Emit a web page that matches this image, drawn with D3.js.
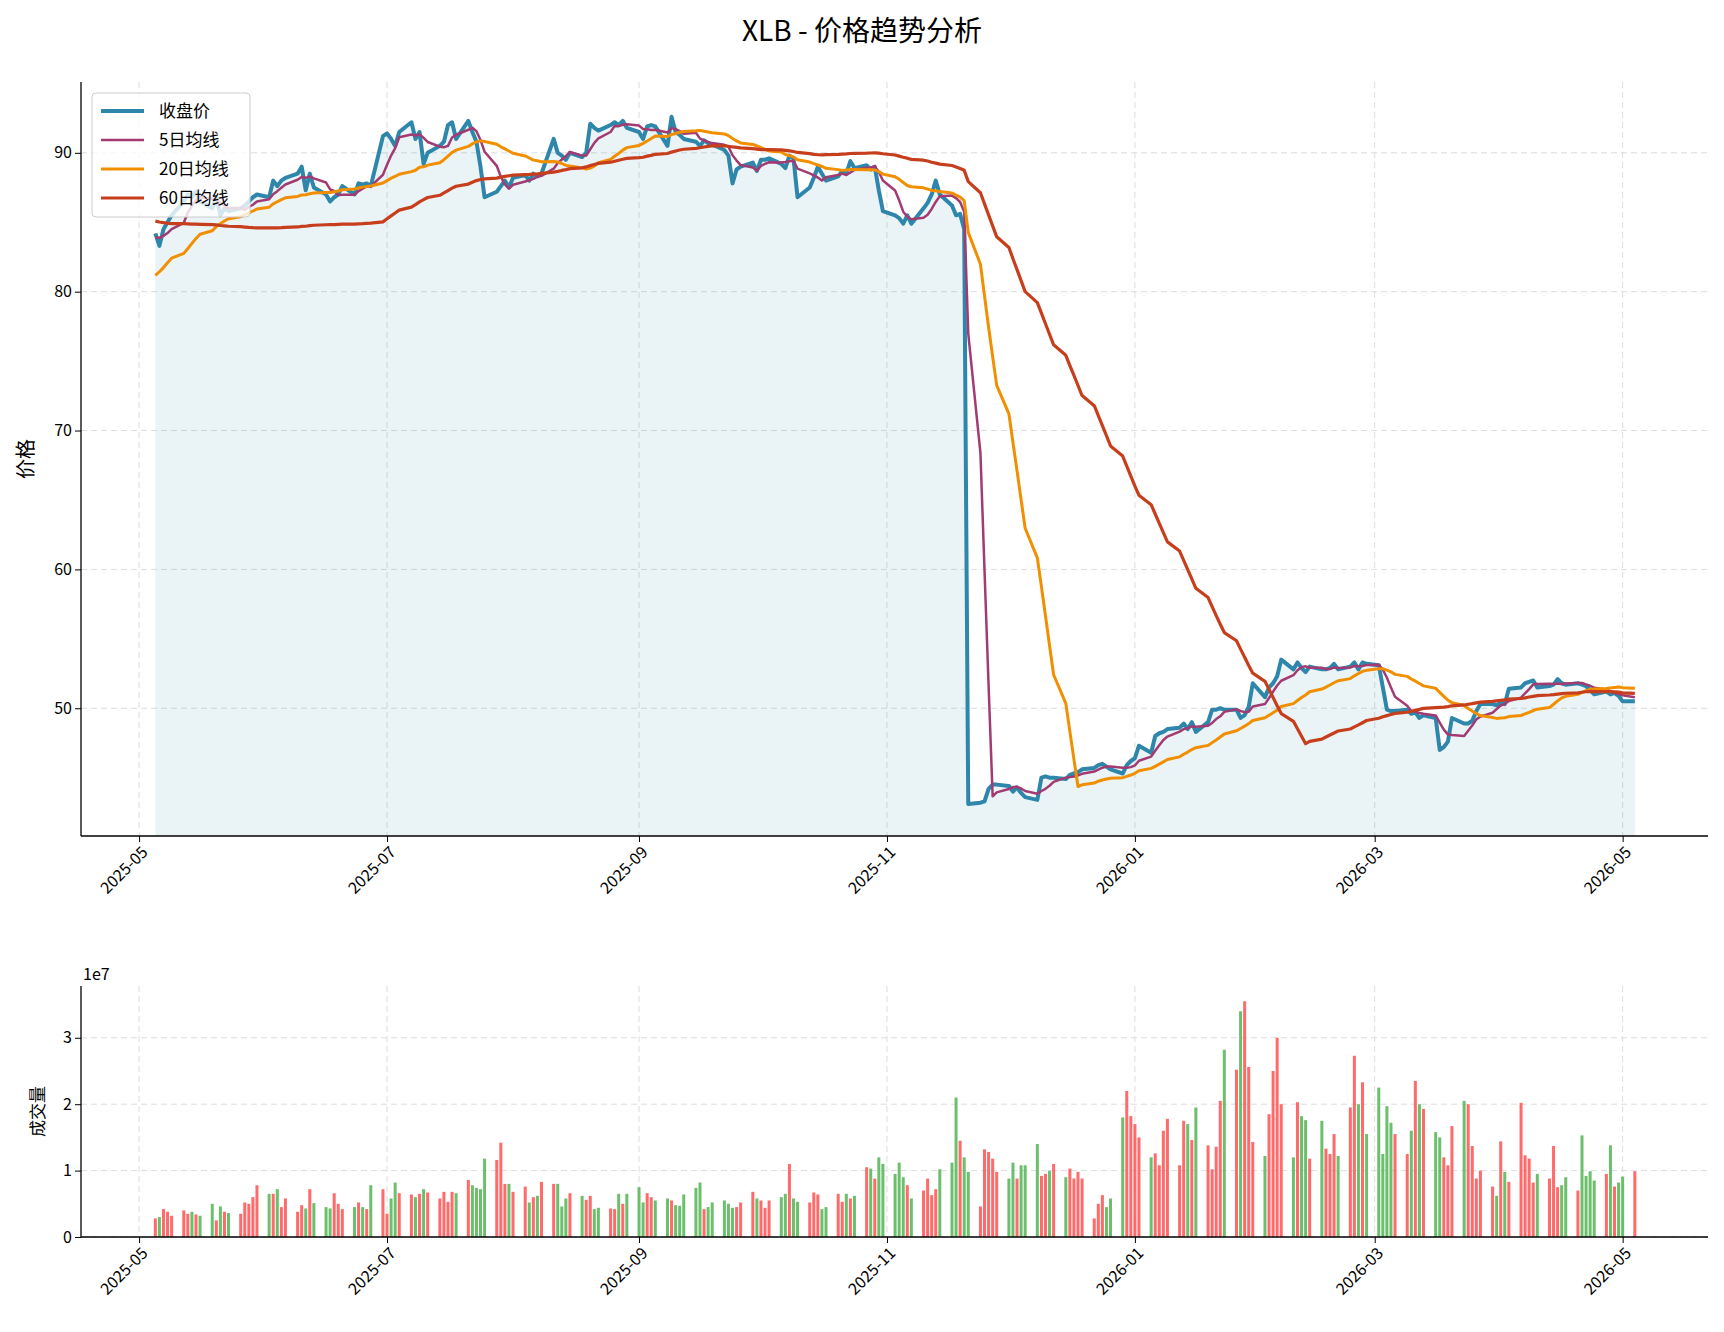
<!DOCTYPE html>
<html><head><meta charset="utf-8">
<script src="https://cdn.jsdelivr.net/npm/d3@7/dist/d3.min.js"></script>
<style>body{margin:0;background:#fff}text{font-family:"Noto Sans CJK SC","DejaVu Sans",sans-serif}</style>
</head><body><svg id="c" width="1724" height="1332"></svg>
<script>
const startDate = "2025-05-05";
// closes before the first shown day (used only for moving-average warm-up)
const warmupCloses = [87.0,87.3,87.5,87.2,86.8,87.4,87.8,87.6,87.2,87.5,87.9,88.1,87.7,87.4,87.6,88.0,88.3,87.9,87.5,87.2,
 87.4,87.7,87.5,87.0,86.6,86.8,86.5,86.0,85.5,85.0,86.0,86.5,86.2,86.8,86.4,86.9,87.0,86.6,86.2,85.8,
 78.0,78.5,78.0,79.0,79.5,80.0,79.5,80.0,80.5,81.0,80.8,81.5,82.0,82.5,83.0,83.5,83.8,84.0,84.1];
const closes = [
 84.2,83.3,84.5,85.0,85.5, 86.5,87.0,86.8,87.2,86.5, 86.0,86.8,85.5,86.0,85.8, 86.0,86.2,86.5,86.8,87.0,
 86.8,88.0,87.6,88.0,88.2, 88.5,89.0,87.3,88.5,87.5, 87.0,86.5,86.8,87.0,87.6, 87.0,87.8,87.7,87.8,87.6,
 91.2,91.4,91.0,90.5,91.5, 92.2,91.0,91.5,89.2,90.0, 90.5,90.8,92.0,92.2,91.0, 92.3,91.5,90.8,89.0,86.8,
 87.2,87.6,88.0,87.5,88.2, 88.4,88.0,88.5,88.3,88.5, 91.0,90.0,89.8,89.5,90.0, 89.7,90.0,92.1,91.8,91.6,
 92.0,92.2,92.0,92.3,91.8, 91.5,91.0,91.9,92.0,91.9, 90.5,92.6,91.5,91.3,91.0, 90.8,90.5,90.9,90.7,90.6,
 90.2,89.8,87.8,88.8,89.0, 89.3,88.7,89.5,89.5,89.6, 89.2,88.9,89.8,89.6,86.8, 87.5,88.2,89.0,88.5,88.0,
 88.3,88.7,88.5,89.4,88.9, 89.1,88.8,89.0,87.3,85.8, 85.5,85.3,84.9,85.5,84.9, 86.0,86.4,87.0,88.0,87.0,
 86.2,85.5,85.6,84.5,43.1, 43.2,43.3,44.2,44.5,44.5, 44.4,44.0,44.3,43.9,43.6, 43.4,45.0,45.1,45.0,45.0,
 44.9,45.2,45.3,45.4,45.6, 45.7,45.9,46.0,45.8,45.6, 45.3,45.9,46.2,46.4,47.3, 46.8,48.0,48.2,48.3,48.5,
 48.6,48.9,48.5,49.0,48.3, 49.0,49.9,49.9,50.0,49.9, 49.9,49.3,49.5,50.1,51.8, 50.8,51.5,51.8,52.3,53.5,
 52.8,53.3,52.9,52.6,53.0, 52.8,52.8,52.9,53.2,52.8, 53.0,53.3,52.8,53.3,53.2, 53.1,51.5,49.9,49.8,49.8,
 49.9,49.6,49.7,49.3,49.5, 49.3,47.0,47.2,47.6,49.3, 48.9,48.9,49.1,49.8,50.3, 50.3,50.2,50.4,50.3,51.4,
 51.5,51.8,51.9,52.0,51.5, 51.6,51.7,52.1,51.8,51.7, 51.8,51.7,51.6,51.3,51.0, 51.2,51.0,51.1,50.9,50.5,
 50.5];
// volume in millions
const volumes = [
 2.8,3.0,4.2,3.8,3.2, 4.0,3.5,3.8,3.4,3.2, 5.0,2.5,4.6,3.8,3.6, 3.5,5.2,5.0,6.0,7.8,
 6.5,6.5,7.2,4.5,5.8, 3.8,4.8,4.3,7.2,5.1, 4.5,4.3,6.6,5.0,4.2, 4.5,5.2,4.5,4.2,7.8,
 7.2,3.5,5.8,8.2,6.6, 6.4,6.0,6.5,7.2,6.7, 5.8,6.8,5.3,6.8,6.6, 8.6,7.8,7.4,7.2,11.8,
 11.6,14.2,8.0,8.0,6.8, 7.6,5.2,6.0,6.2,8.3, 8.0,8.0,4.6,5.8,6.6, 6.2,5.6,6.2,4.2,4.4,
 4.3,4.2,6.5,5.0,6.5, 7.5,5.2,6.6,6.0,5.5, 5.8,5.5,4.8,4.7,6.4, 7.4,8.2,4.2,4.5,5.2,
 5.5,5.0,4.4,4.5,5.2, 6.8,5.8,5.5,4.4,5.5, 6.0,6.5,11.0,5.8,5.3, 5.2,6.7,6.4,4.2,4.5,
 6.5,5.3,6.5,5.8,6.2, 10.5,10.3,8.8,12.0,11.0, 9.5,11.2,9.0,7.8,5.8, 7.0,8.8,6.3,7.2,10.2,
 11.2,21.0,14.5,12.0,9.8, 4.6,13.2,12.8,11.8,9.8, 8.8,11.2,8.8,10.8,10.8, 14.0,9.2,9.5,10.0,11.0,
 9.0,10.3,8.8,9.8,8.8, 2.8,5.0,6.3,4.5,5.8, 18.0,22.0,18.2,17.0,15.0, 12.0,12.6,10.8,16.0,17.8,
 10.8,17.5,17.0,14.6,19.5, 13.8,10.2,13.6,20.5,28.2, 25.2,34.0,35.5,25.6,14.3, 12.2,18.5,25.0,30.0,20.0,
 12.0,20.3,18.2,17.6,11.8, 17.5,13.3,12.5,15.5,12.2, 19.5,27.3,20.0,23.3,15.5, 22.5,12.5,19.7,17.2,15.5,
 12.5,16.0,23.5,20.0,19.3, 15.8,15.0,12.0,10.8,16.7, 20.5,20.0,13.7,8.8,10.0, 7.6,6.2,14.4,9.8,8.3,
 20.2,12.3,11.8,8.2,9.5, 8.8,13.7,7.5,7.8,9.0, 7.0,15.3,9.2,9.9,8.5, 9.5,13.8,7.6,8.2,9.1,
 9.9];
const tickLabels = ["2025-05","2025-07","2025-09","2025-11","2026-01","2026-03","2026-05"];
const seriesNames = ["收盘价","5日均线","20日均线","60日均线"];

const dates = [];
{ let d = new Date(startDate+"T00:00:00"); while (dates.length < closes.length) { const w = d.getDay(); if (w>0 && w<6) dates.push(new Date(d)); d = new Date(d.getTime()+86400000); } }
const all = warmupCloses.concat(closes);
function ma(n){ return closes.map((c,i)=>{ const j=i+warmupCloses.length; const s=all.slice(Math.max(0,j-n+1),j+1); return d3.mean(s);}); }
const mas = [ma(5),ma(20),ma(60)];

const svg = d3.select("#c");
const L=81, R=1708, T1=82, B1=836, T2=986, B2=1237;
const x = d3.scaleTime().domain([new Date("2025-04-16T17:00:00"), new Date("2026-05-22T00:00:00")]).range([L,R]);
const y = d3.scaleLinear().domain([40.8,95.1]).range([B1,T1]);
const yv = d3.scaleLinear().domain([0,37.8]).range([B2,T2]);
const tickDates = tickLabels.map(s=>new Date(s+"-01T00:00:00"));

svg.append("text").attr("x",862).attr("y",41).attr("text-anchor","middle").attr("font-size",28).text("XLB - 价格趋势分析");

function grid(yScale, ticks, top, bot){
  const g = svg.append("g").attr("stroke","#ddd").attr("stroke-dasharray","6,4").attr("stroke-width",1);
  tickDates.forEach(d=>g.append("line").attr("x1",x(d)).attr("x2",x(d)).attr("y1",top).attr("y2",bot));
  ticks.forEach(t=>g.append("line").attr("x1",L).attr("x2",R).attr("y1",yScale(t)).attr("y2",yScale(t)));
}
grid(y,[50,60,70,80,90],T1,B1);
grid(yv,[0,10,20,30],T2,B2);

svg.append("defs").append("clipPath").attr("id","cp").append("rect").attr("x",L).attr("y",T1).attr("width",R-L).attr("height",B1-T1);
const pg = svg.append("g").attr("clip-path","url(#cp)");
pg.append("path").datum(closes).attr("fill","#2E86AB").attr("fill-opacity",0.1)
  .attr("d",d3.area().x((d,i)=>x(dates[i])).y0(B1).y1(d=>y(d)));
const colors=["#2E86AB","#A23B72","#F18F01","#C73E1D"], widths=[4,2.5,3,3.2];
[closes,...mas].forEach((s,k)=>{
  pg.append("path").datum(s).attr("fill","none").attr("stroke",colors[k]).attr("stroke-width",widths[k])
   .attr("stroke-linejoin","round").attr("d",d3.line().x((d,i)=>x(dates[i])).y(d=>y(d)));
});

const bw = 3;
svg.append("g").selectAll("rect").data(volumes.slice(0,closes.length)).join("rect")
  .attr("x",(d,i)=>x(dates[i])-bw/2).attr("width",bw).attr("y",d=>yv(d)).attr("height",d=>B2-yv(d))
  .attr("fill",(d,i)=>{ const prev = i===0?warmupCloses[warmupCloses.length-1]:closes[i-1]; return closes[i]>=prev?"#FF5A5A":"#5CB85C";})
  .attr("fill-opacity",0.9);

function axes(yScale, ticks, top, bot, fmt){
  const ax = svg.append("g").attr("transform",`translate(0,${bot})`).call(d3.axisBottom(x).tickValues(tickDates).tickFormat((d,i)=>tickLabels[i]).tickSize(6));
  ax.selectAll("text").attr("font-size",16).attr("text-anchor","end").attr("transform","translate(-4,4) rotate(-45)").attr("dy","0.6em");
  const ay = svg.append("g").attr("transform",`translate(${L},0)`).call(d3.axisLeft(yScale).tickValues(ticks).tickFormat(fmt).tickSize(6));
  ay.selectAll("text").attr("font-size",16);
  [ax,ay].forEach(a=>{a.select(".domain").attr("stroke","#000").attr("stroke-width",1.3); a.selectAll("line").attr("stroke","#000");});
  ax.select(".domain").attr("d",`M${L},0H${R}`);
  ay.select(".domain").attr("d",`M0,${top}V${bot}`);
}
axes(y,[50,60,70,80,90],T1,B1,d3.format("d"));
axes(yv,[0,10,20,30],T2,B2,d=>d/10);
svg.append("text").attr("x",83).attr("y",980).attr("font-size",16).text("1e7");
svg.append("text").attr("transform",`translate(33,${(T1+B1)/2}) rotate(-90)`).attr("text-anchor","middle").attr("font-size",20).text("价格");
svg.append("text").attr("transform",`translate(44,${(T2+B2)/2}) rotate(-90)`).attr("text-anchor","middle").attr("font-size",17).text("成交量");

const lg = svg.append("g").attr("transform","translate(92,93)");
lg.append("rect").attr("width",158).attr("height",124).attr("rx",4).attr("fill","#fff").attr("fill-opacity",0.8).attr("stroke","#ccc");
seriesNames.forEach((n,k)=>{
  const yy = 18+k*29;
  lg.append("line").attr("x1",9).attr("x2",52).attr("y1",yy).attr("y2",yy).attr("stroke",colors[k]).attr("stroke-width",widths[k]);
  lg.append("text").attr("x",67).attr("y",yy+6).attr("font-size",17).text(n);
});
</script></body></html>
